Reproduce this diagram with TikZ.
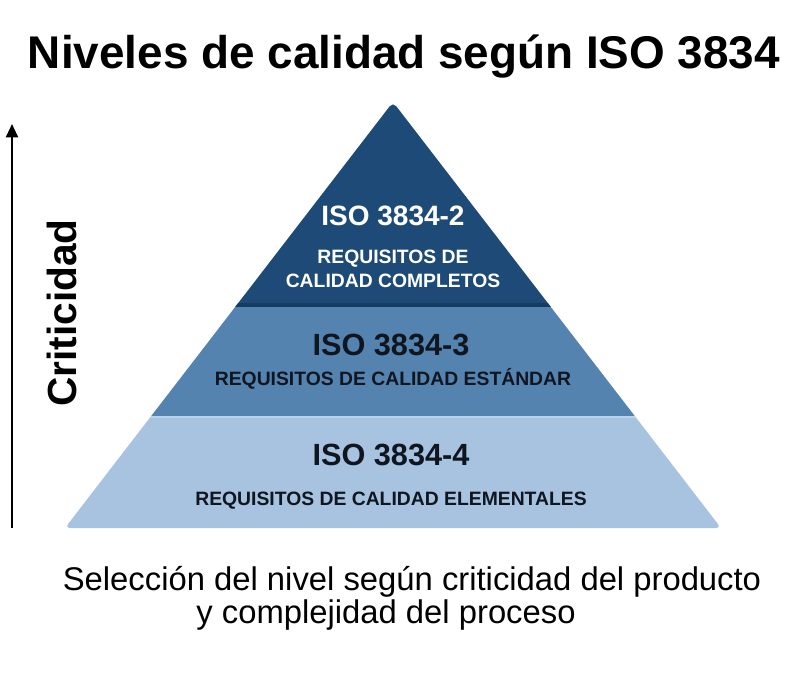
\documentclass[tikz,border=0pt]{standalone}
\usepackage{fontspec}
\setmainfont{Liberation Sans}
\usetikzlibrary{arrows.meta,calc}
\definecolor{topc}{HTML}{1D4A76}
\definecolor{topedge}{HTML}{163C62}
\definecolor{midc}{HTML}{5583B0}
\definecolor{botc}{HTML}{A7C3E0}
\definecolor{botedge}{HTML}{BBD2EA}
\definecolor{darktxt}{HTML}{0F1620}
\tikzset{
  lvltitle/.style={anchor=base, font=\fontsize{23pt}{23pt}\selectfont\bfseries, text=darktxt, inner sep=0pt},
  lvlsub/.style={anchor=base, font=\fontsize{14.5pt}{14.5pt}\selectfont\bfseries, text=darktxt, inner sep=0pt},
  caption/.style={anchor=base, font=\fontsize{24.6pt}{24.6pt}\selectfont, text=black, inner sep=0pt},
}
\begin{document}
\begin{tikzpicture}[x=0.75pt,y=-0.75pt]
\useasboundingbox (0,0) rectangle (800,700);
\fill[white] (0,0) rectangle (800,700);

% title
\node[anchor=base, inner sep=0pt, font=\fontsize{34.4pt}{34.4pt}\selectfont\bfseries] (title) at (404,68) {Niveles de calidad según ISO 3834};

% pyramid
\coordinate (A) at (393,102);
\coordinate (BL) at (65,528);
\coordinate (BR) at (721,528);
\begin{scope}
  \clip[rounded corners=4] (A) -- (BR) -- (BL) -- cycle;
  \fill[botc] (0,416) rectangle (800,540);
  \fill[midc] (0,306) rectangle (800,416);
  \fill[topc] (0,90) rectangle (800,306);
  \draw[topedge, line width=2.5] (0,305) -- (800,305);
  \draw[botedge, line width=2] (0,417) -- (800,417);
\end{scope}

% level texts
\node[lvltitle, text=white, font=\fontsize{21pt}{21pt}\selectfont\bfseries] (l2) at (393,225) {ISO 3834-2};
\node[lvlsub, text=white] (l2a) at (393,263) {REQUISITOS DE};
\node[lvlsub, text=white] (l2b) at (393,287) {CALIDAD COMPLETOS};

\node[lvltitle] (l3) at (391,355) {ISO 3834-3};
\node[lvlsub] (l3a) at (393,385) {REQUISITOS DE CALIDAD ESTÁNDAR};

\node[lvltitle] (l4) at (391,465) {ISO 3834-4};
\node[lvlsub] (l4a) at (391,505) {REQUISITOS DE CALIDAD ELEMENTALES};

% criticality axis
\coordinate (ax0) at (12,528);
\coordinate (ax1) at (12,124);
\draw[line width=1.6pt, -{Triangle[width=9pt,length=10pt]}] (ax0) -- (ax1);
\node[anchor=base, rotate=90, inner sep=0pt, font=\fontsize{30.5pt}{30.5pt}\selectfont\bfseries] (crit) at (76,313) {Criticidad};

% caption
\node[caption] (cap1) at (412,590) {Selección del nivel según criticidad del producto};
\node[caption] (cap2) at (386,623) {y complejidad del proceso};
\end{tikzpicture}
\end{document}
